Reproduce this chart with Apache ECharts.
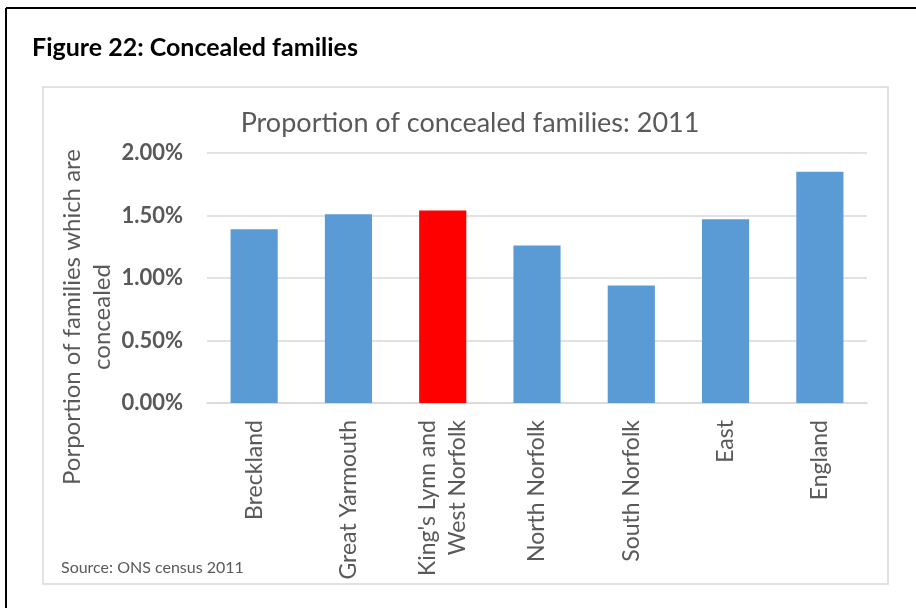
<!DOCTYPE html>
<html>
<head>
<meta charset="utf-8">
<script src="https://cdn.jsdelivr.net/npm/echarts@6/dist/echarts.min.js"></script>
<style>
  html, body { margin: 0; padding: 0; background: #fff; }
  #chart { width: 916px; height: 608px; }
</style>
</head>
<body>
<div id="chart"></div>
<script>
var areas = ['Breckland', 'Great Yarmouth', "King's Lynn and\nWest Norfolk", 'North Norfolk', 'South Norfolk', 'East', 'England'];
var concealed = [1.39, 1.51, 1.54, 1.26, 0.94, 1.47, 1.85];
var highlight = "King's Lynn and\nWest Norfolk";

var FONT = 'Lato';
var grey = '#595959';

var chart = echarts.init(document.getElementById('chart'));

option = {
    backgroundColor: '#fff',
    animation: false,
    title: {
        text: 'Proportion of concealed families: 2011',
        left: 465,
        textAlign: 'center',
        top: 105,
        textStyle: { fontFamily: FONT, fontSize: 27, fontWeight: 'normal', color: grey }
    },
    grid: { left: 207, right: 49, top: 153, bottom: 205, containLabel: false },
    xAxis: {
        type: 'category',
        data: areas,
        axisLine: { lineStyle: { color: '#d9d9d9', width: 1.5 } },
        axisTick: { show: false },
        axisLabel: {
            rotate: 90, margin: 17, interval: 0,
            fontFamily: FONT, fontSize: 23, color: grey, lineHeight: 30
        }
    },
    yAxis: {
        type: 'value',
        min: 0, max: 2, interval: 0.5,
        axisLine: { show: false },
        axisTick: { show: false },
        splitLine: { lineStyle: { color: '#d9d9d9', width: 1.5 } },
        axisLabel: {
            margin: 24, fontFamily: FONT, fontSize: 22, fontWeight: 'bold', color: grey,
            formatter: function (v) { return v.toFixed(2) + '%'; }
        }
    },
    series: [{
        type: 'bar',
        barWidth: '50%',
        data: concealed.map(function (v, i) {
            return {
                value: v,
                itemStyle: { color: areas[i] === highlight ? '#ff0000' : '#5b9bd5' }
            };
        })
    }],
    graphic: [
        { type: 'line', shape: { x1: 6, y1: 8, x2: 916, y2: 8 }, style: { stroke: '#000', lineWidth: 2 } },
        { type: 'line', shape: { x1: 6, y1: 8, x2: 6, y2: 608 }, style: { stroke: '#000', lineWidth: 2 } },
        { type: 'rect', shape: { x: 43, y: 87, width: 845, height: 497 }, style: { fill: null, stroke: '#d9d9d9', lineWidth: 1.5 } },
        {
            type: 'text', left: 32, top: 35,
            style: { text: 'Figure 22: Concealed families', fontFamily: FONT, fontSize: 25, fontWeight: 'bold', fill: '#000' }
        },
        {
            type: 'text', x: 87, y: 317, rotation: Math.PI / 2,
            style: {
                text: 'Porportion of families which are\nconcealed',
                fontFamily: FONT, fontSize: 24, fill: grey,
                align: 'center', verticalAlign: 'middle', lineHeight: 30
            }
        },
        {
            type: 'text', left: 61, top: 560,
            style: { text: 'Source: ONS census 2011', fontFamily: FONT, fontSize: 16, fill: grey }
        }
    ]
};
chart.setOption(option);
window.addEventListener('resize', chart.resize);
</script>
</body>
</html>
